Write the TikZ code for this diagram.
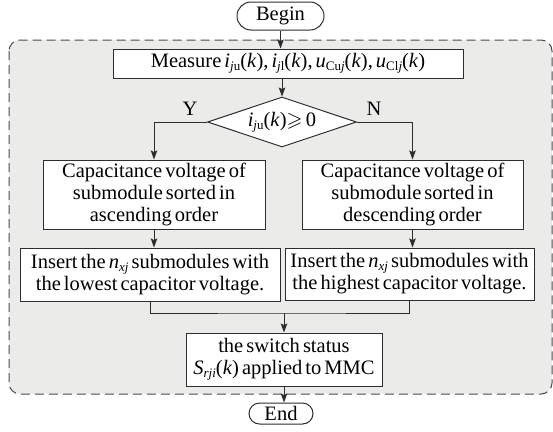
\documentclass[tikz,border=0pt]{standalone}
\usepackage{amssymb}
\usepackage{fontspec}
\setmainfont[WordSpace={0.6,0.3,0.3}]{Liberation Serif}
\usetikzlibrary{shapes.geometric,arrows.meta}
\definecolor{regionfill}{RGB}{235,236,234}
\definecolor{lineclr}{RGB}{45,45,45}
\definecolor{dashclr}{RGB}{75,75,75}
\newcommand{\vr}[1]{\textit{#1}}
\newcommand{\sbs}[1]{\raisebox{-0.3ex}{\fontsize{13}{13}\selectfont #1}}
\begin{document}
\begin{tikzpicture}[x=1pt,y=-1pt,
  font=\fontsize{20.5}{22}\selectfont,
  box/.style={draw=lineclr,line width=1pt,fill=white,rectangle,inner sep=0pt,align=center},
  term/.style={box,rounded corners=10.5pt},
  dec/.style={draw=lineclr,line width=1pt,fill=white,diamond,inner sep=0pt,aspect=3},
  conn/.style={draw=lineclr,line width=1pt},
  arr/.style={conn,-{Stealth[length=9pt,width=6.5pt,inset=1.5pt]}},
  lbl/.style={inner sep=0pt}
]
\useasboundingbox (0,0) rectangle (553,431);
% dashed region
\draw[dashclr,line width=1pt,dash pattern=on 9pt off 5pt,fill=regionfill,rounded corners=11pt]
  (9,40) rectangle (552,394);

\node[term,rounded corners=14pt,minimum width=87pt,minimum height=28pt] (begin) at (280.5,16) {Begin};
\node[box,minimum width=350pt,minimum height=29pt] (measure) at (288,63.5)
  {Measure \vr{i}\sbs{\vr{j}u}(\vr{k}), \vr{i}\sbs{\vr{j}l}(\vr{k}), \vr{u}\sbs{Cu\vr{j}}(\vr{k}), \vr{u}\sbs{Cl\vr{j}}(\vr{k})};
\node[dec,minimum width=149pt,minimum height=50pt] (dec) at (282,122)
  {\vr{i}\sbs{\vr{j}u}(\vr{k})$\geqslant$\,0};
\node[lbl] (ylab) at (190,109) {Y};
\node[lbl] (nlab) at (374,109) {N};
\node[box,minimum width=222pt,minimum height=69pt] (cap1) at (154,194.5)
  {Capacitance voltage of\\submodule sorted in\\ascending order};
\node[box,minimum width=221pt,minimum height=69pt] (cap2) at (412.5,194.5)
  {Capacitance voltage of\\submodule sorted in\\descending order};
\node[box,minimum width=260pt,minimum height=53pt] (ins1) at (150,274.5)
  {Insert the \vr{n}\sbs{\vr{xj}} submodules with\\the lowest capacitor voltage.};
\node[box,minimum width=249pt,minimum height=52pt] (ins2) at (409.5,274)
  {Insert the \vr{n}\sbs{\vr{xj}} submodules with\\the highest capacitor voltage.};
\node[box,minimum width=196pt,minimum height=53pt] (sw) at (284,359.5)
  {the switch status\\\vr{S}\sbs{\vr{rji}}(\vr{k}) applied to MMC};
\node[term,minimum width=64pt,minimum height=21pt] (end) at (281,413.5) {End};
\coordinate (m) at (284,313);

\draw[arr] (begin.south) -- (begin.south |- measure.north);
\draw[arr] (dec.north |- measure.south) -- (dec.north);
\draw[arr] (dec.west) -| (cap1.north);
\draw[arr] (dec.east) -| (cap2.north);
\draw[arr] (cap1.south) -- (cap1.south |- ins1.north);
\draw[arr] (cap2.south) -- (cap2.south |- ins2.north);
\draw[conn] (ins1.south) |- (m) -| (ins2.south);
\draw[arr] (m) -- (sw.north);
\draw[arr] (sw.south) -- (sw.south |- end.north);
\end{tikzpicture}
\end{document}
